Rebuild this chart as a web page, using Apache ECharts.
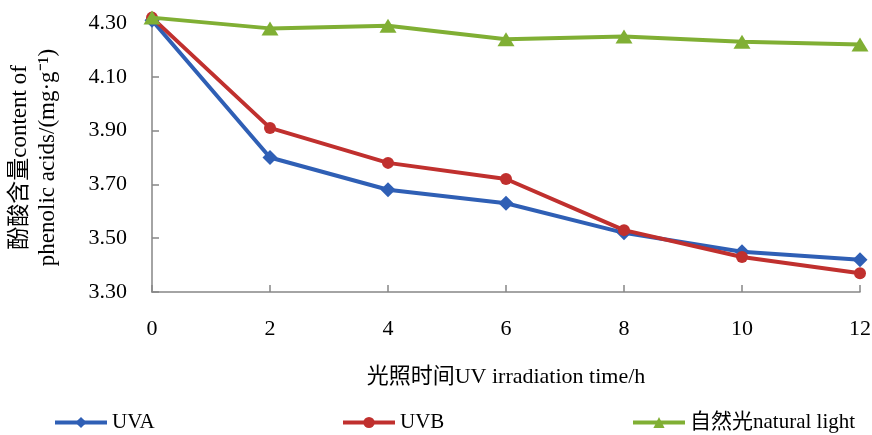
<!DOCTYPE html>
<html><head><meta charset="utf-8">
<script src="https://cdn.jsdelivr.net/npm/echarts@6/dist/echarts.min.js"></script>
<style>html,body{margin:0;padding:0;background:#fff}#c{width:872px;height:435px}</style>
</head><body><div id="c"></div>
<script>
const hours = [0, 2, 4, 6, 8, 10, 12];
const xTicks = [0, 2, 4, 6, 8, 10, 12];
const yTicks = [3.30, 3.50, 3.70, 3.90, 4.10, 4.30];
const uva = [4.31, 3.80, 3.68, 3.63, 3.52, 3.45, 3.42];
const uvb = [4.32, 3.91, 3.78, 3.72, 3.53, 3.43, 3.37];
const natural = [4.32, 4.28, 4.29, 4.24, 4.25, 4.23, 4.22];
const names = ['UVA', 'UVB', '自然光natural light'];

const serif = '"Liberation Serif", "Times New Roman", "Noto Sans CJK SC", serif';
const axisColor = '#868686';
function pairs(vals){ return hours.map((h,i)=>[h, vals[i]]); }

const chart = echarts.init(document.getElementById('c'));
chart.setOption({
  animation: false,
  grid: {left: 152, right: 12, top: 23, bottom: 143, outerBoundsMode: 'none', containLabel: false},
  xAxis: {
    type: 'value', min: 0, max: 12, interval: 2,
    axisLine: {lineStyle: {color: axisColor, width: 1.5}},
    axisTick: {inside: true, length: 7, lineStyle: {color: axisColor, width: 1.5}},
    axisLabel: {customValues: xTicks, color: '#000', fontFamily: serif, fontSize: 22, margin: 26},
    splitLine: {show: false},
    name: '光照时间UV irradiation time/h', nameLocation: 'middle', nameGap: 74,
    nameTextStyle: {color: '#000', fontFamily: serif, fontSize: 22}
  },
  yAxis: {
    type: 'value', min: 3.3, max: 4.3, interval: 0.2,
    axisLine: {show: true, lineStyle: {color: axisColor, width: 1.5}},
    axisTick: {show: true, inside: true, length: 7, lineStyle: {color: axisColor, width: 1.5}},
    axisLabel: {formatter: v => v.toFixed(2), color: '#000', fontFamily: serif, fontSize: 22, margin: 25},
    splitLine: {show: false},
    name: '酚酸含量content of\nphenolic acids/(mg·g⁻¹)', nameLocation: 'middle', nameGap: 90, nameRotate: 90,
    nameTextStyle: {color: '#000', fontFamily: serif, fontSize: 23, lineHeight: 28}
  },
  legend: [
    {data: [names[0]], left: 48, top: 407},
    {data: [names[1]], left: 336, top: 407},
    {data: [names[2]], left: 626, top: 407}
  ].map(l => Object.assign(l, {itemWidth: 52, itemHeight: 14, itemGap: 0,
    lineStyle: {width: 4},
    textStyle: {color: '#000', fontFamily: serif, fontSize: 21}})),
  series: [
    {name: names[0], type: 'line', data: pairs(uva), symbol: 'diamond', symbolSize: 15, clip: false,
     lineStyle: {color: '#2F5FB5', width: 4}, itemStyle: {color: '#2F5FB5'}, z: 3},
    {name: names[1], type: 'line', data: pairs(uvb), symbol: 'circle', symbolSize: 12, clip: false,
     lineStyle: {color: '#C0302E', width: 4}, itemStyle: {color: '#C0302E'}, z: 4},
    {name: names[2], type: 'line', data: pairs(natural), symbol: 'triangle', symbolSize: [17, 14], clip: false,
     lineStyle: {color: '#80AF34', width: 4}, itemStyle: {color: '#80AF34'}, z: 5}
  ]
});
</script></body></html>
